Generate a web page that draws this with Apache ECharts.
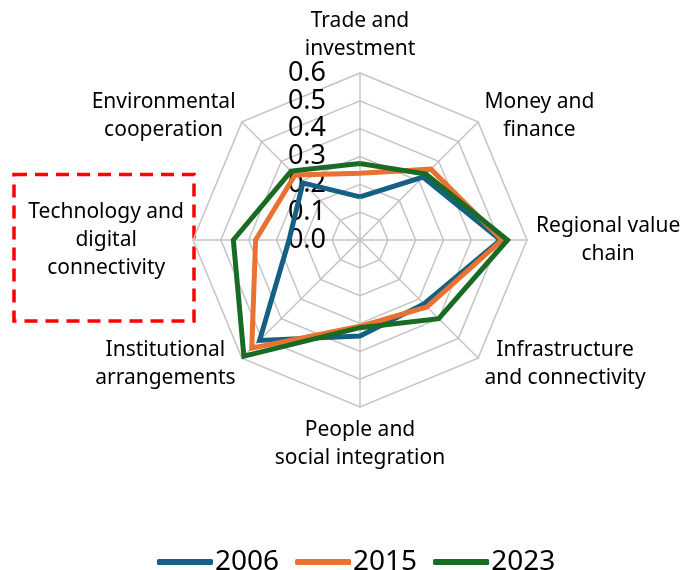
<!DOCTYPE html>
<html>
<head>
<meta charset="utf-8">
<script src="https://cdn.jsdelivr.net/npm/echarts@6/dist/echarts.min.js"></script>
<style>
html,body{margin:0;padding:0;background:#fff;}
#chart{width:690px;height:570px;}
</style>
</head>
<body>
<div id="chart"></div>
<script>
// ---- data (clockwise from top) ----
var categories = [
  'Trade and\ninvestment',
  'Money and\nfinance',
  'Regional value\nchain',
  'Infrastructure\nand connectivity',
  'People and\nsocial integration',
  'Institutional\narrangements',
  'Technology and\ndigital\nconnectivity',
  'Environmental\ncooperation'
];
var seriesNames = ['2006', '2015', '2023'];
var values2006 = [0.155, 0.32, 0.505, 0.325, 0.345, 0.51, 0.255, 0.29];
var values2015 = [0.24, 0.36, 0.51, 0.34, 0.31, 0.55, 0.375, 0.33];
var values2023 = [0.275, 0.335, 0.53, 0.40, 0.315, 0.59, 0.455, 0.35];
var axisMax = 0.6;
var tickLabelDigits = 1; // tick labels: 0.0 ... 0.6

var colors = ['#156082', '#E97132', '#196B24'];
var FONT = '"Noto Sans", "Liberation Sans", sans-serif';

// ECharts radar runs counter-clockwise; reorder so the chart reads clockwise
function cw(arr) {
  return [arr[0]].concat(arr.slice(1).reverse());
}

var chart = echarts.init(document.getElementById('chart'), null, {renderer: 'canvas'});

var indicators = cw(categories).map(function (c, i) {
  var ind = {name: c, min: 0, max: axisMax};
  if (i === 0) {
    ind.axisLabel = {
      show: true,
      fontSize: 27,
      color: '#000',
      fontFamily: FONT,
      margin: 34,
      formatter: function (v) { return Number(v).toFixed(tickLabelDigits); }
    };
  }
  return ind;
});

var allValues = [values2006, values2015, values2023];

var option = {
  backgroundColor: '#fff',
  color: colors,
  animation: false,
  legend: {
    data: seriesNames,
    left: 152,
    top: 543,
    itemWidth: 56,
    itemHeight: 6,
    itemGap: 16,
    icon: 'roundRect',
    textStyle: {fontSize: 28, color: '#000', fontFamily: FONT, padding: [0, 0, 0, -3]}
  },
  radar: {
    center: [360, 240],
    radius: 167,
    startAngle: 90,
    shape: 'polygon',
    splitNumber: 6,
    nameGap: 9,
    indicator: indicators,
    axisName: {
      color: '#000',
      fontSize: 21,
      fontFamily: FONT,
      formatter: function (name) {
        return name.split('\n').map(function (l) { return '{c|' + l + '}'; }).join('\n');
      },
      rich: {
        c: {align: 'center', fontSize: 21, lineHeight: 28, color: '#000', fontFamily: FONT}
      }
    },
    axisLabel: {show: false},
    axisTick: {show: false},
    axisLine: {lineStyle: {color: '#c4c4c4', width: 1.5}},
    splitLine: {lineStyle: {color: '#c4c4c4', width: 1.5}},
    splitArea: {show: false}
  },
  series: [{
    type: 'radar',
    symbol: 'none',
    data: allValues.map(function (vals, i) {
      return {
        name: seriesNames[i],
        value: cw(vals),
        lineStyle: {width: 5, color: colors[i], join: 'miter'},
        itemStyle: {color: colors[i]}
      };
    })
  }],
  graphic: [{
    type: 'rect',
    shape: {x: 14, y: 174.5, width: 180, height: 146.5},
    style: {fill: 'none', stroke: '#FF0000', lineWidth: 3.5, lineDash: [13, 8]},
    silent: true
  }]
};
chart.setOption(option);
</script>
</body>
</html>
